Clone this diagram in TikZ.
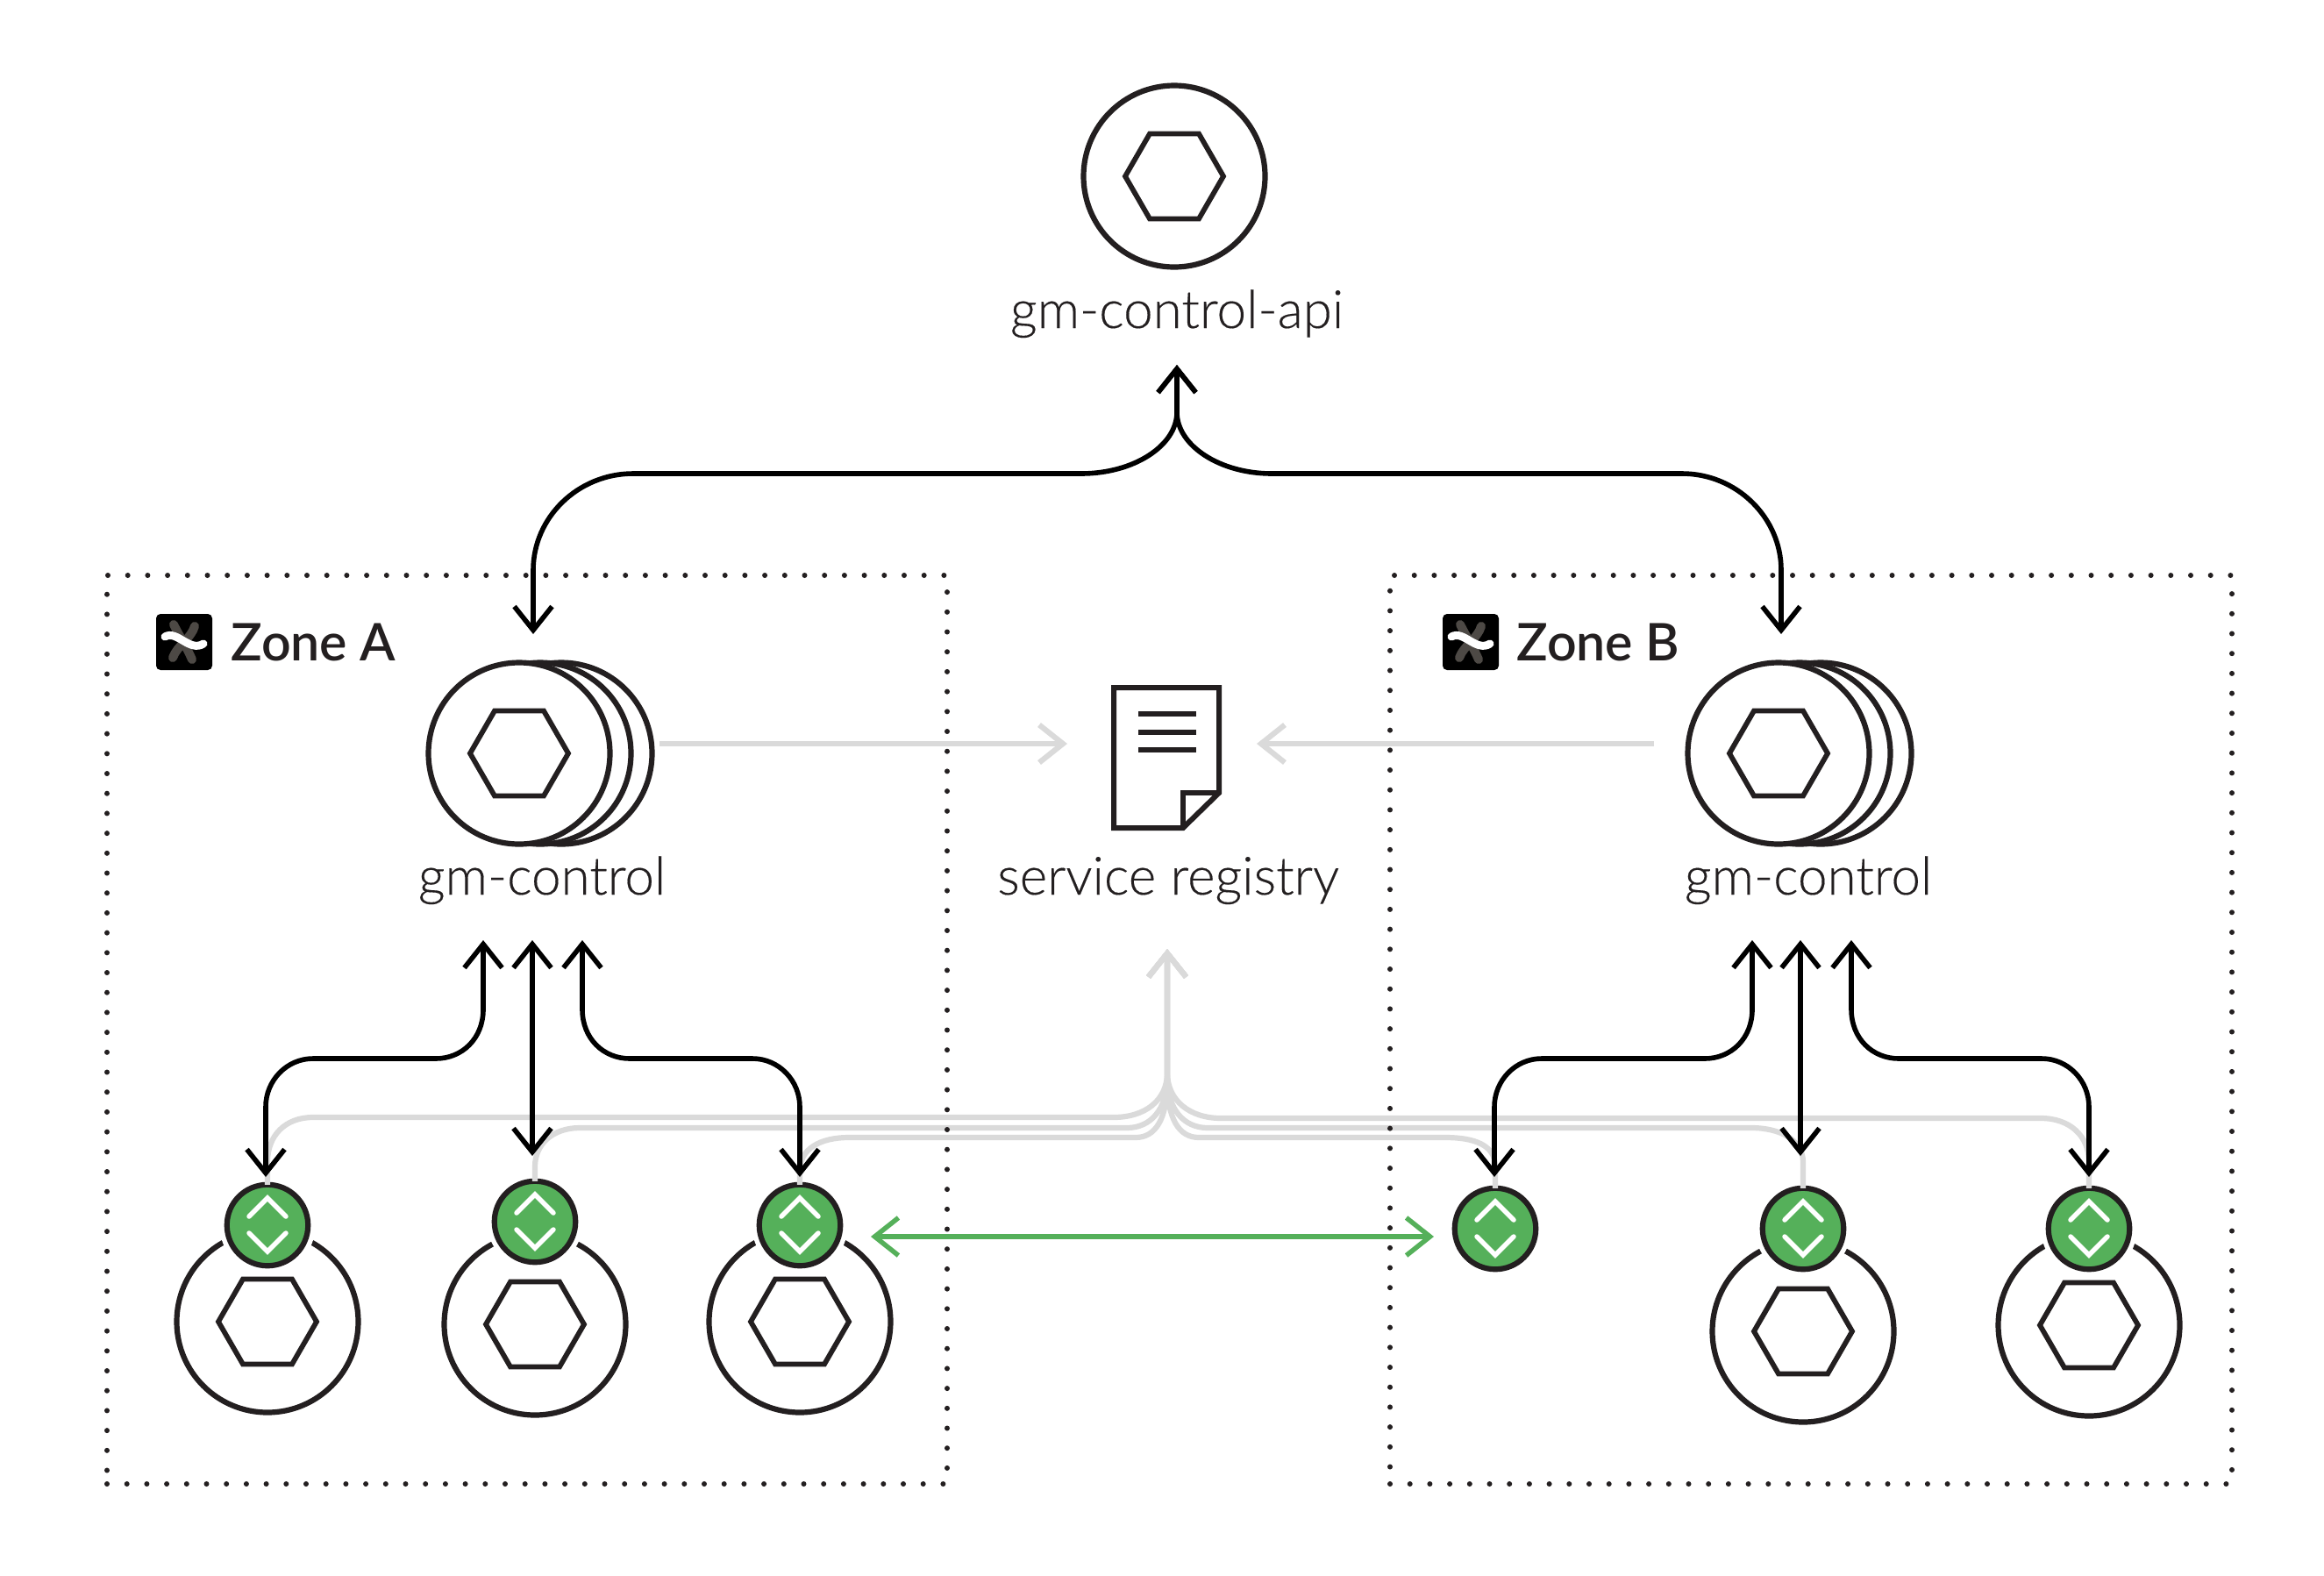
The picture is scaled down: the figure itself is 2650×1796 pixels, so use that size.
\documentclass[tikz,border=0pt]{standalone}
\usepackage{fontspec}
\usetikzlibrary{arrows.meta, shapes.geometric}
\newfontfamily\lightfont[FakeBold=0.25]{Lato Light}
\newfontfamily\zonefont{Lato Semibold}
\definecolor{ink}{HTML}{231F20}
\definecolor{fog}{HTML}{DADADA}
\definecolor{leaf}{HTML}{55B05A}
\definecolor{ash}{HTML}{4D4945}
\tikzset{
  >={Straight Barb[length=2.7mm,width=4.3mm]},
  ring/.style={circle, draw=ink, line width=0.62mm, fill=white, inner sep=0pt, outer sep=0pt, minimum size=20.7mm},
  hexa/.style={regular polygon, regular polygon sides=6, draw=ink, line width=0.58mm, inner sep=0pt, outer sep=0pt, minimum size=11.2mm},
  sidecar/.style={circle, draw=ink, line width=0.62mm, fill=leaf, inner sep=0pt, outer sep=0pt, minimum size=9.25mm,
    preaction={draw=white, line width=1.7mm}},
  chevron/.style={draw=white, line width=0.55mm, line cap=round, line join=miter},
  tag/.style={font=\lightfont\fontsize{17.1}{17.1}\selectfont, text=ink, anchor=base, inner sep=0pt},
  zonetag/.style={font=\zonefont\fontsize{16.8}{16.8}\selectfont, text=ink, anchor=base west, inner sep=0pt},
  zonebox/.style={draw=ink, line width=0.6mm, line cap=round, dash pattern=on 0pt off 2.27mm, inner sep=0pt, outer sep=0pt},
  logo/.style={fill=black, rounded corners=0.5mm, inner sep=0pt, outer sep=0pt, minimum size=6.4mm},
  wire/.style={draw=black, line width=0.56mm, <->},
  fogwire/.style={draw=fog, line width=0.62mm, ->},
  leafwire/.style={draw=leaf, line width=0.55mm, <->},
}
\begin{document}
\begin{tikzpicture}[x=0.1mm, y=-0.1mm]
	\useasboundingbox (0,0) rectangle (2650,1796);

	% services
	\node[ring] (api) at (1339,201) {};
	\node[hexa] (apihex) at (api) {};
	\node[tag] (apitag) at (1342,374) {gm-control-api};

	\foreach \z/\cx in {A/592, B/2028} {
		\node[ring] (ctl\z c) at (\cx+48,859) {};
		\node[ring] (ctl\z b) at (\cx+24,859) {};
		\node[ring] (ctl\z) at (\cx,859) {};
		\node[hexa] (ctl\z hex) at (ctl\z) {};
	}
	\node[tag] (ctlAtag) at (618,1020) {gm-control};
	\node[tag] (ctlBtag) at (2062,1020) {gm-control};

	% pods
	\foreach \n/\cx/\cy/\sy in {A1/305/1507/1397, A2/610/1510/1393, A3/912/1507/1397, B2/2056/1518/1401, B3/2382/1511/1401} {
		\node[ring] (pod\n) at (\cx,\cy) {};
		\node[hexa] (hex\n) at (pod\n) {};
		\node[sidecar] (side\n) at (\cx,\sy) {};
	}
	\node[sidecar] (sideB1) at (1705,1401) {};
	\foreach \n in {A1, A2, A3, B1, B2, B3} {
		\draw[chevron, shift={(side\n)}] (-21,-10) -- (0,-31) -- (21,-10);
		\draw[chevron, shift={(side\n)}] (-21,9) -- (0,30) -- (21,9);
	}

	% registry
	\draw[ink, line width=0.6mm, fill=white] (1270,784) -- (1390,784) -- (1390,904) -- (1349,944) -- (1270,944) -- cycle;
	\draw[ink, line width=0.6mm] (1349,944) -- (1349,904) -- (1390,904);
	\foreach \ly in {814, 835, 855} {
		\draw[ink, line width=0.6mm] (1298,\ly) -- (1364,\ly);
	}
	\node[tag] (regtag) at (1332,1020) {service registry};

	% free ends
	\coordinate (apiin) at (1342,416);
	\coordinate (ctlAin) at (608,723);
	\coordinate (ctlBin) at (2031,723);
	\coordinate (ctlAout) at (752,848);
	\coordinate (ctlBout) at (1886,848);
	\coordinate (regl) at (1217,848);
	\coordinate (regr) at (1433,848);
	\coordinate (regb) at (1331,1082);
	\coordinate (leafl) at (993,1410);
	\coordinate (leafr) at (1635,1410);

	% gray lines
	\draw[fogwire] (ctlAout) -- (regl);
	\draw[fogwire] (ctlBout) -- (regr);
	\draw[fogwire, <-] (regb) -- (1331,1223) .. controls (1331,1255) and (1305,1274) .. (1270,1274) -- (357,1274) .. controls (325,1274) and (305,1295) .. (305,1325) -- (sideA1.north);
	\draw[fogwire, <-] (regb) -- (1331,1228) .. controls (1331,1265) and (1312,1286) .. (1285,1286) -- (661,1286) .. controls (630,1286) and (610,1305) .. (610,1330) -- (sideA2.north);
	\draw[fogwire, <-] (regb) -- (1331,1233) .. controls (1331,1275) and (1318,1297) .. (1295,1297) -- (968,1297) .. controls (935,1297) and (912,1310) .. (912,1335) -- (sideA3.north);
	\draw[fogwire, <-] (regb) -- (1331,1223) .. controls (1331,1255) and (1357,1275) .. (1392,1275) -- (2327,1275) .. controls (2360,1275) and (2382,1295) .. (2382,1325) -- (sideB3.north);
	\draw[fogwire, <-] (regb) -- (1331,1228) .. controls (1331,1265) and (1350,1286) .. (1377,1286) -- (1997,1286) .. controls (2030,1286) and (2056,1300) .. (2056,1325) -- (sideB2.north);
	\draw[fogwire, <-] (regb) -- (1331,1233) .. controls (1331,1275) and (1344,1297) .. (1367,1297) -- (1648,1297) .. controls (1680,1297) and (1705,1305) .. (1705,1330) -- (sideB1.north);

	% zones
	\node[zonebox, minimum width=95.8mm, minimum height=103.6mm] (zoneA) at (601,1174) {};
	\node[zonebox, minimum width=96mm, minimum height=103.6mm] (zoneB) at (2065,1174) {};
	\foreach \z/\lx/\tx in {A/210/263, B/1677/1729} {
		\node[logo] (logo\z) at (\lx,732) {};
		\draw[ash, line width=1mm, line cap=round, shift={(logo\z)}] (-12,-20) .. controls (-4,-4) and (2,4) .. (9,20);
		\draw[ash, line width=1mm, line cap=round, shift={(logo\z)}] (12,-18) .. controls (8,-4) and (-8,4) .. (-13,18);
		\draw[white, line width=0.9mm, line cap=round, shift={(logo\z)}] (-22,-6) .. controls (-8,-14) and (6,12) .. (22,2);
		\node[zonetag] (zone\z tag) at (\tx,753) {Zone \z};
	}

	% green link
	\draw[leafwire] (leafl) -- (leafr);

	% black links
	\draw[wire] (apiin) -- (1342,470) .. controls (1342,508) and (1293,540) .. (1233,540) -- (722,540) .. controls (659,540) and (608,590) .. (608,650) -- (ctlAin);
	\draw[wire] (apiin) -- (1342,470) .. controls (1342,508) and (1391,540) .. (1450,540) -- (1918,540) .. controls (1980,540) and (2031,590) .. (2031,650) -- (ctlBin);

	\foreach \z/\lx/\mx/\rx/\lp/\rp/\mtip in {A/551/607/664/303/912/1318, B/1998/2053/2111/1704/2382/1318} {
		\coordinate (ctl\z l) at (\lx,1072);
		\coordinate (ctl\z m) at (\mx,1072);
		\coordinate (ctl\z r) at (\rx,1072);
		\coordinate (tip\z l) at (\lp,1342);
		\coordinate (tip\z m) at (\mx,\mtip);
		\coordinate (tip\z r) at (\rp,1342);
		\draw[wire] (ctl\z m) -- (tip\z m);
		\draw[wire] (ctl\z l) -- (\lx,1151) .. controls (\lx,1184) and (\lx-24,1207) .. (\lx-54,1207) -- (\lp+54,1207) .. controls (\lp+24,1207) and (\lp,1232) .. (\lp,1262) -- (tip\z l);
		\draw[wire] (ctl\z r) -- (\rx,1151) .. controls (\rx,1184) and (\rx+24,1207) .. (\rx+54,1207) -- (\rp-54,1207) .. controls (\rp-24,1207) and (\rp,1232) .. (\rp,1262) -- (tip\z r);
	}
\end{tikzpicture}
\end{document}
